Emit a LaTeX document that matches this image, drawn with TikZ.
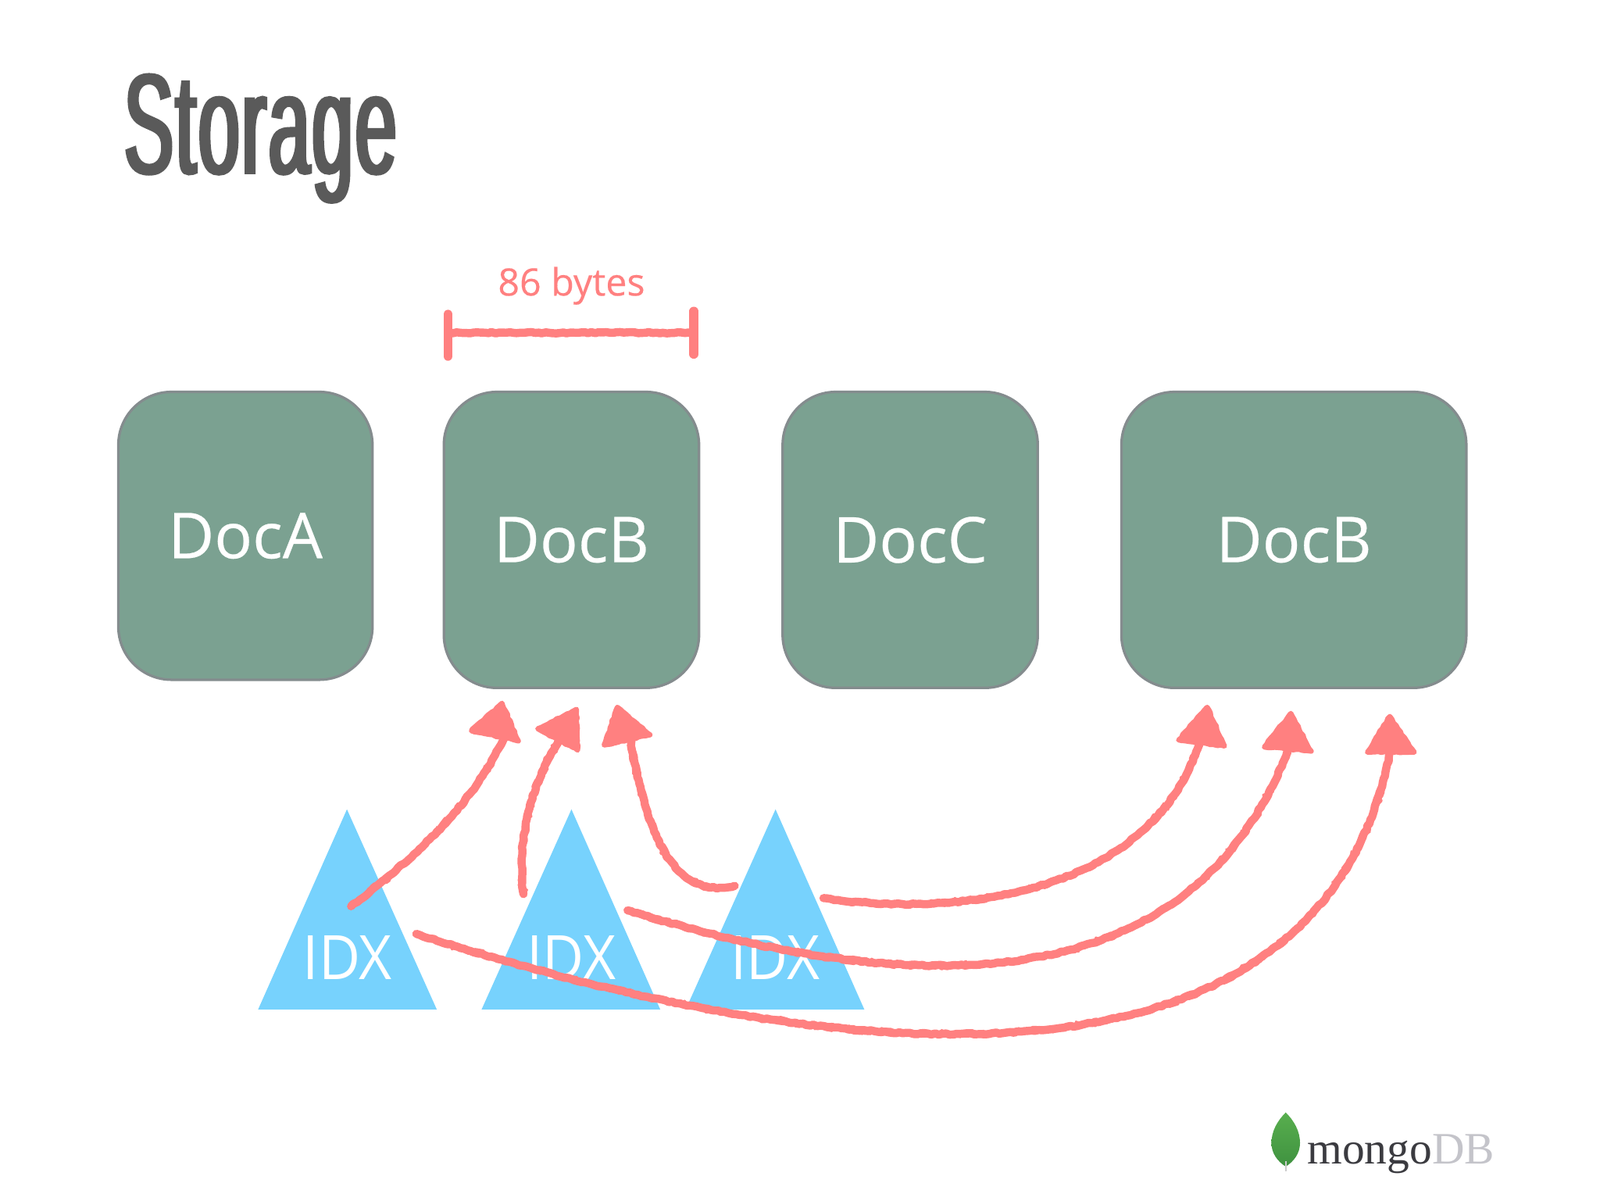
\documentclass[tikz,border=0pt]{standalone}
\usepackage{fontspec}
\setmainfont{Open Sans}
\newfontfamily\docfont[FakeBold=0.3]{Open Sans}
\newfontfamily\titlefont[FakeStretch=0.173,FakeBold=1,LetterSpace=0.5]{Liberation Sans}
\newfontfamily\logofont{Liberation Serif}
\usetikzlibrary{decorations.pathmorphing,calc}
\definecolor{boxfill}{HTML}{7BA191}
\definecolor{boxline}{HTML}{848C8E}
\definecolor{idxblue}{HTML}{77D2FD}
\definecolor{crayon}{HTML}{FF8080}
\definecolor{titlegrey}{HTML}{5A5A5A}
\definecolor{leaftop}{HTML}{58AE4E}
\definecolor{leafbot}{HTML}{3F9240}
\tikzset{
  docbox/.style={draw=boxline,line width=2.5pt,fill=boxfill,rounded corners=52pt,inner sep=0pt,
    text=white,font=\fontsize{62}{70}\docfont},
  idxlabel/.style={text=white,inner sep=0pt,xscale=0.93,font=\fontsize{60}{64}\selectfont},
  idxtri/.style={fill=idxblue},
  rough/.style={crayon,line join=round,line cap=round,decorate,
    decoration={random steps,segment length=3.5pt,amplitude=0.7pt}},
  crayonstroke/.style={rough,line width=8pt},
  fuzz/.style={crayon,line cap=round,line join=round,line width=2.5pt,decorate,
    decoration={random steps,segment length=4pt,amplitude=3.8pt}},
  head/.style={rough,fill=crayon,line width=5pt},
  bar/.style={crayon,line cap=round,line width=9pt}
}
\newcommand{\crayonline}[1]{%
  \draw[crayonstroke] #1;
  \draw[fuzz] #1;}
\begin{document}
\begin{tikzpicture}[x=1pt,y=-1pt]
\useasboundingbox (0,0) rectangle (1568,1176);
\fill[white] (0,0) rectangle (1568,1176);

\node[inner sep=0pt,anchor=base west,text=titlegrey,xscale=3] (title) at (121,170)
  {\fontsize{140}{150}\titlefont Storage};

\node[inner sep=0pt,text=crayon,font=\fontsize{37}{40}\docfont] (bytes) at (560,280) {86 bytes};

\node[docbox,minimum width=249pt,minimum height=282pt] (doca) at (240.5,525) {DocA};
\node[docbox,minimum width=250pt,minimum height=290pt] (docb) at (560,529) {DocB};
\node[docbox,minimum width=250pt,minimum height=290pt] (docc) at (892,529) {DocC};
\node[docbox,minimum width=338pt,minimum height=290pt] (docd) at (1268,529) {DocB};

% measure bracket
\coordinate (bl) at (440,326);
\coordinate (br) at (680,326);
\draw[rough,line width=8pt] (bl) -- (br);
\draw[bar] (439,308) -- (439,349);
\draw[bar] (680,305) -- (680,347);

% index triangles
\fill[idxtri] (340,793) -- (428,989) -- (253,989) -- cycle;
\fill[idxtri] (560,793) -- (647,989) -- (472,989) -- cycle;
\fill[idxtri] (760,793) -- (847,989) -- (672,989) -- cycle;
\node[idxlabel] (idx1) at (340.5,938) {IDX};
\node[idxlabel] (idx2) at (560,938) {IDX};
\node[idxlabel] (idx3) at (760,938) {IDX};

% arrows
\coordinate (s1) at (344,888); \coordinate (e1) at (496,718);
\coordinate (s2) at (513,876); \coordinate (e2) at (550,722);
\coordinate (s3) at (720,868); \coordinate (e3) at (618,725);
\coordinate (s4) at (807,880); \coordinate (e4) at (1176,725);
\coordinate (s5) at (615,892); \coordinate (e5) at (1262,735);
\coordinate (s6) at (408,915); \coordinate (e6) at (1362,738);
\crayonline{(s1) .. controls (400,845) and (465,790) .. (e1)}
\crayonline{(s2) .. controls (506,820) and (522,765) .. (e2)}
\crayonline{(s3) .. controls (665,880) and (635,830) .. (e3)}
\crayonline{(s4) .. controls (960,902) and (1135,865) .. (e4)}
\crayonline{(s5) .. controls (850,965) and (1160,1005) .. (e5)}
\crayonline{(s6) .. controls (800,1042) and (1290,1102) .. (e6)}
\filldraw[head] (492,689) -- (462,716) -- (508,726) -- cycle;
\filldraw[head] (565,695) -- (527,714) -- (566,735) -- cycle;
\filldraw[head] (605,693) -- (592,730) -- (637,720) -- cycle;
\filldraw[head] (1183,693) -- (1155,725) -- (1200,731) -- cycle;
\filldraw[head] (1265,699) -- (1239,732) -- (1285,736) -- cycle;
\filldraw[head] (1362,702) -- (1340,737) -- (1386,737) -- cycle;

% logo
\shade[top color=leaftop,bottom color=leafbot]
  (1260,1090) .. controls (1252,1098) and (1246,1108) .. (1246,1120)
  .. controls (1246,1130) and (1252,1138) .. (1260,1143)
  .. controls (1268,1138) and (1274,1130) .. (1274,1120)
  .. controls (1274,1108) and (1268,1098) .. (1260,1090) -- cycle;
\draw[line width=1.2pt,color=black!20!white] (1260,1138) -- (1260,1148);
\node[inner sep=0pt,anchor=base west] (logo) at (1281,1140)
  {\fontsize{44}{46}\logofont\textcolor[HTML]{3B3B40}{mongo}\textcolor[HTML]{C4C4CA}{DB}};
\end{tikzpicture}
\end{document}
